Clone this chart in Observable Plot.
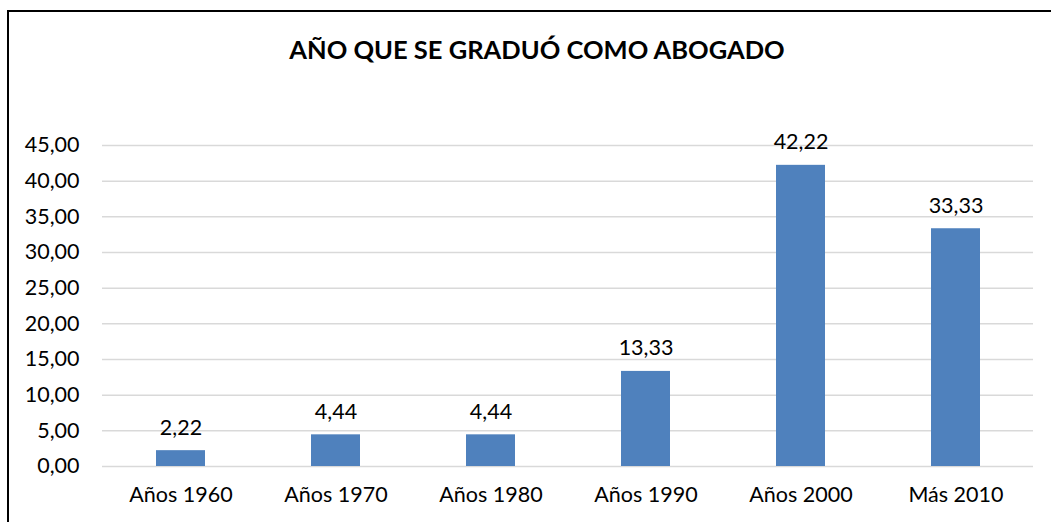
<!DOCTYPE html>
<html><head><meta charset="utf-8">
<script src="https://cdn.jsdelivr.net/npm/d3@7"></script>
<script src="https://cdn.jsdelivr.net/npm/@observablehq/plot@0.6"></script>
<style>
html,body{margin:0;padding:0;background:#fff;overflow:hidden;}
#wrap{position:relative;width:1051px;height:522px;font-family:Lato,"Open Sans",sans-serif;}
#frame{position:absolute;left:7px;top:10px;width:1100px;height:600px;border-left:2px solid #000;border-top:2px solid #000;}
#title{position:absolute;left:0;width:1074px;top:34px;text-align:center;font-weight:700;font-size:25.5px;color:#000;line-height:30px;}
#chart{position:absolute;left:0;top:0;}
</style></head>
<body><div id="wrap"><div id="frame"></div><div id="title">AÑO QUE SE GRADUÓ COMO ABOGADO</div><div id="chart"></div></div>
<script>
const categories = ["Años 1960","Años 1970","Años 1980","Años 1990","Años 2000","Más 2010"];
const values = [2.22, 4.44, 4.44, 13.33, 42.22, 33.33];
const yTicks = [0,5,10,15,20,25,30,35,40,45];

const data = categories.map((c,i)=>({cat:c, value:values[i]}));
const fmt = d => d.toFixed(2).replace(".", ",");

const chart = Plot.plot({
  width: 1051,
  height: 522,
  marginLeft: 102,
  marginRight: 18,
  marginTop: 145,
  marginBottom: 56,
  style: {fontFamily: "Lato, 'Open Sans', sans-serif", fontSize: "21.5px", color: "#000", background: "transparent"},
  x: {domain: categories, paddingInner: 0.684, paddingOuter: 0.342, label: null},
  y: {domain: [0,45], label: null},
  marks: [
    Plot.gridY(yTicks, {stroke: "#d9d9d9", strokeOpacity: 1, strokeWidth: 1.5}),
    Plot.barY(data, {x: "cat", y: "value", fill: "#4F81BD"}),
    Plot.text(data, {x: "cat", y: "value", text: d => fmt(d.value), dy: -16, lineAnchor: "bottom", fontSize: 21.5, fill: "#000"}),
    Plot.axisY(yTicks, {tickSize: 0, tickPadding: 23, tickFormat: fmt, fontSize: 21.5, label: null}),
    Plot.axisX({tickSize: 0, tickPadding: 20, fontSize: 21.5, label: null})
  ]
});
document.getElementById("chart").appendChild(chart);
</script></body></html>
